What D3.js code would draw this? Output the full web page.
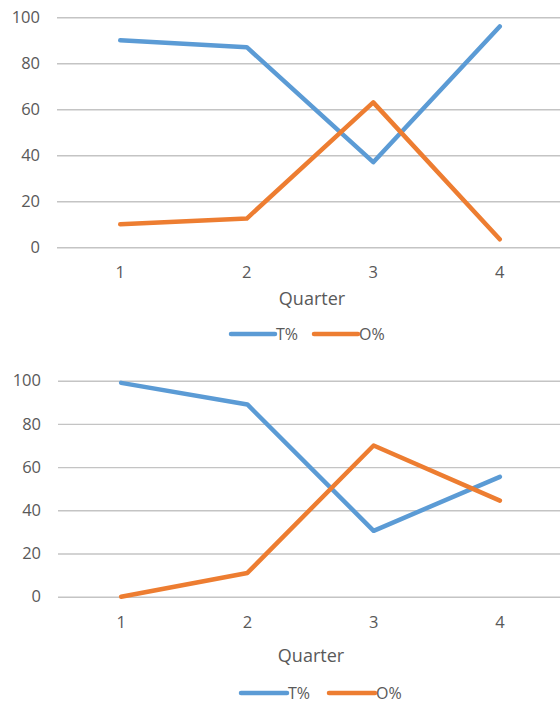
<!DOCTYPE html>
<html>
<head>
<meta charset="utf-8">
<script src="https://cdn.jsdelivr.net/npm/d3@7"></script>
<style>
  html, body { margin: 0; padding: 0; background: #fff; }
  svg { display: block; }
  text { font-family: "Open Sans", "Segoe UI", sans-serif; fill: #595959; }
</style>
</head>
<body>
<svg id="chart" width="560" height="704"></svg>
<script>
// Quarter categories and the two series for each panel
const quarters = ["1", "2", "3", "4"];
const yTicks = [0, 20, 40, 60, 80, 100];
const seriesNames = ["T%", "O%"];
const seriesColors = ["#5B9BD5", "#ED7D31"];

const topT = [90, 87, 37, 96];
const topO = [10, 12.5, 63, 3.5];

const bottomT = [99, 89, 30.5, 55.5];
const bottomO = [0, 11, 70, 44.5];

const svg = d3.select("#chart");

function drawPanel(cfg) {
  const g = svg.append("g");

  const x = d3.scaleBand().domain(quarters).range([cfg.left, cfg.right]).padding(0);
  const y = d3.scaleLinear().domain([0, 100]).range([cfg.bottom, cfg.top]);

  // horizontal gridlines with value labels
  const yAxis = d3.axisLeft(y)
    .tickValues(yTicks)
    .tickSize(-(560 - cfg.left))
    .tickPadding(17)
    .tickFormat(d3.format("d"));
  const ya = g.append("g").attr("transform", `translate(${cfg.left},0)`).call(yAxis);
  ya.select(".domain").remove();
  ya.selectAll(".tick line").attr("stroke", "#c4c4c4").attr("stroke-width", 1.4);
  ya.selectAll(".tick text")
    .style("font-size", "16.5px")
    .attr("fill", "#595959");

  // category labels
  const xAxis = d3.axisBottom(x).tickSize(0).tickPadding(0);
  const xa = g.append("g").attr("transform", `translate(0,${cfg.tickY})`).call(xAxis);
  xa.select(".domain").remove();
  xa.selectAll(".tick text")
    .attr("dy", "0.35em")
    .attr("y", 0)
    .style("font-size", "16.5px")
    .attr("fill", "#595959");

  // axis title
  g.append("text")
    .attr("x", cfg.titleX)
    .attr("y", cfg.titleY)
    .attr("dy", "0.35em")
    .attr("text-anchor", "middle")
    .style("font-size", "18px")
    .text("Quarter");

  // series lines
  const line = d3.line()
    .x((d, i) => x(quarters[i]) + x.bandwidth() / 2)
    .y(d => y(d));

  [cfg.t, cfg.o].forEach((vals, k) => {
    g.append("path")
      .datum(vals)
      .attr("d", line)
      .attr("fill", "none")
      .attr("stroke", seriesColors[k])
      .attr("stroke-width", 4.5)
      .attr("stroke-linecap", "round")
      .attr("stroke-linejoin", "round");
  });

  // legend
  seriesNames.forEach((name, k) => {
    const lx = cfg.legendX[k];
    g.append("line")
      .attr("x1", lx).attr("x2", lx + cfg.legendLen)
      .attr("y1", cfg.legendY).attr("y2", cfg.legendY)
      .attr("stroke", seriesColors[k])
      .attr("stroke-width", 4.5)
      .attr("stroke-linecap", "round");
    g.append("text")
      .attr("x", lx + cfg.legendLen + 1)
      .attr("y", cfg.legendY)
      .attr("dy", "0.35em")
      .style("font-size", "16px")
      .text(name);
  });
}

drawPanel({
  left: 57, right: 563, top: 17.3, bottom: 247.3,
  tickY: 272, titleX: 312, titleY: 299,
  legendX: [231, 314], legendLen: 44, legendY: 334,
  t: topT, o: topO
});

drawPanel({
  left: 58, right: 563, top: 380.7, bottom: 596.7,
  tickY: 622, titleX: 311, titleY: 656,
  legendX: [241, 329], legendLen: 46, legendY: 693,
  t: bottomT, o: bottomO
});
</script>
</body>
</html>
